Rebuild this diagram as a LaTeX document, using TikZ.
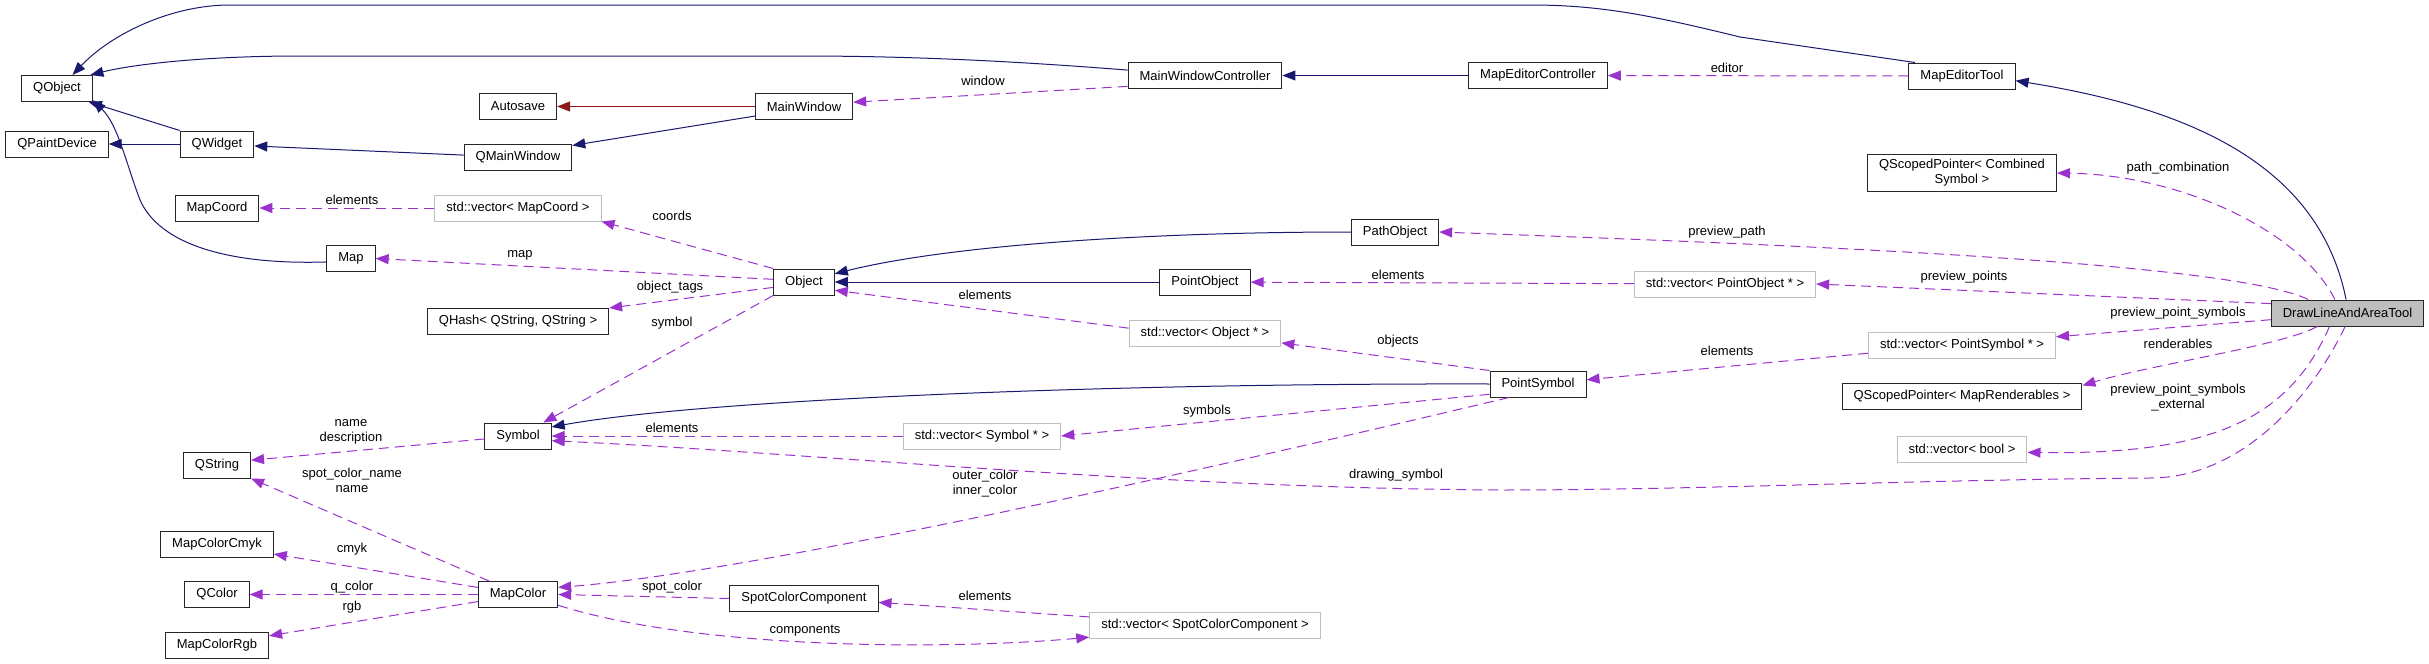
\documentclass[tikz,border=0pt]{standalone}
\usepackage{fontspec}
\setmainfont{Liberation Sans}
\usepackage{tikz}
\usetikzlibrary{arrows.meta}
\definecolor{inhcol}{HTML}{191970}
\definecolor{usecol}{HTML}{9A32CD}
\definecolor{privcol}{HTML}{8B1A1A}
\definecolor{tplcol}{HTML}{BFBFBF}

\begin{document}
\begin{tikzpicture}[x=1pt, y=-1pt, >={Triangle[length=13pt,width=10pt]},
  every node/.style={font=\fontsize{13}{15}\selectfont},
  cls/.style={draw=black!85, line width=1pt, fill=white, inner xsep=11.5pt, inner ysep=5pt, minimum height=26pt},
  tpl/.style={cls, draw=tplcol},
  self/.style={cls, fill=tplcol},
  inh/.style={->, draw=inhcol, line width=1pt},
  priv/.style={->, draw=privcol, line width=1pt},
  use/.style={->, draw=usecol, line width=1pt, dash pattern=on 10pt off 6pt},
  lbl/.style={inner sep=0pt, align=center}]
  \useasboundingbox (0,0) rectangle (2429,664);
  % classes
  \node[cls] (qobject) at (57,88.5) {QObject};
  \node[cls] (qpaintdevice) at (57,144) {QPaintDevice};
  \node[cls] (qwidget) at (217,144) {QWidget};
  \node[cls] (autosave) at (518,106.5) {Autosave};
  \node[cls] (qmainwindow) at (518,157) {QMainWindow};
  \node[cls] (mainwindow) at (804,106.5) {MainWindow};
  \node[cls] (mwctrl) at (1205,75.5) {MainWindowController};
  \node[cls] (mectrl) at (1538,75.5) {MapEditorController};
  \node[cls] (metool) at (1962,76) {MapEditorTool};
  \node[cls, align=center] (combsym) at (1962,173) {QScopedPointer< Combined\\Symbol >};
  \node[cls] (mapcoord) at (217,208) {MapCoord};
  \node[tpl] (veccoord) at (518,208) {std::vector< MapCoord >};
  \node[cls] (map) at (351,258.5) {Map};
  \node[cls] (qhash) at (518,321.5) {QHash< QString, QString >};
  \node[cls] (object) at (804,282) {Object};
  \node[cls] (pathobj) at (1395,232) {PathObject};
  \node[cls] (pointobj) at (1205,282) {PointObject};
  \node[tpl] (vecpointobj) at (1725,284) {std::vector< PointObject * >};
  \node[self] (dlaat) at (2347.5,313) {DrawLineAndAreaTool};
  \node[tpl] (vecobj) at (1205,333.5) {std::vector< Object * >};
  \node[tpl] (vecpointsym) at (1962,345) {std::vector< PointSymbol * >};
  \node[cls] (pointsym) at (1538,384) {PointSymbol};
  \node[cls] (maprend) at (1962,396) {QScopedPointer< MapRenderables >};
  \node[cls] (symbol) at (518,436) {Symbol};
  \node[tpl] (vecsym) at (982,436) {std::vector< Symbol * >};
  \node[tpl] (vecbool) at (1962,449) {std::vector< bool >};
  \node[cls] (qstring) at (217,465) {QString};
  \node[cls] (cmyk) at (217,544) {MapColorCmyk};
  \node[cls] (qcolor) at (217,594.5) {QColor};
  \node[cls] (rgb) at (217,645) {MapColorRgb};
  \node[cls] (mapcolor) at (518,594.5) {MapColor};
  \node[cls] (spotcomp) at (804,598.5) {SpotColorComponent};
  \node[tpl] (vecspot) at (1205,625) {std::vector< SpotColorComponent >};
  % inheritance
  \draw[inh] (qwidget.north west) -- (qobject.-23);
  \draw[inh] (qwidget) -- (qpaintdevice);
  \draw[inh] (qmainwindow.178) -- (qwidget.-3);
  \draw[inh] (mainwindow.-169) -- (qmainwindow.12);
  \draw[priv] (mainwindow) -- (autosave);
  \draw[inh] (mectrl) -- (mwctrl);
  \draw[inh] (mwctrl.176) .. controls (1000,60) and (900,56) .. (800,56) -- (300,56) .. controls (200,56) and (130,65) .. (qobject.22);
  \draw[inh] (metool.164) -- (1740,37) .. controls (1650,15) and (1600,5) .. (1530,5) -- (230,5) .. controls (170,5) and (110,35) .. (qobject.41);
  \draw[inh] (map.188) .. controls (230,265) and (160,245) .. (140,200) .. controls (125,160) and (118,125) .. (qobject.-18);
  \draw[inh] (pathobj.west) .. controls (1150,232) and (950,245) .. (object.15);
  \draw[inh] (pointobj) -- (object);
  \draw[inh] (pointsym.west) .. controls (1100,383) and (700,400) .. (symbol.15);
  \draw[inh] (dlaat.96) .. controls (2320,170) and (2200,110) .. (metool.-5);
  % members
  \draw[use] (veccoord) -- (mapcoord) node[lbl] at (352,200) {elements};
  \draw[use] (object.north west) -- (veccoord.south east) node[lbl] at (672,216) {coords};
  \draw[use] (object.175) -- (map.east) node[lbl] at (520,255) {map};
  \draw[use] (object.-170) -- (qhash.north east) node[lbl] at (670,287) {object\_tags};
  \draw[use] (object.south west) -- (symbol.28) node[lbl] at (672,323) {symbol};
  \draw[use] (mwctrl.188) -- (mainwindow.5) node[lbl] at (983,81) {window};
  \draw[use] (metool) -- (mectrl) node[lbl] at (1727,68) {editor};
  \draw[use] (vecobj.176) -- (object.-15) node[lbl] at (985,295) {elements};
  \draw[use] (pointsym.north west) -- (vecobj.-7) node[lbl] at (1398,341) {objects};
  \draw[use] (vecpointobj) -- (pointobj) node[lbl] at (1398,275) {elements};
  \draw[use] (dlaat.161) .. controls (2230,262) and (1800,245) .. (pathobj.east) node[lbl] at (1727,232) {preview\_path};
  \draw[use] (dlaat.173) -- (vecpointobj.east) node[lbl] at (1964,277) {preview\_points};
  \draw[use] (dlaat.133) .. controls (2300,230) and (2180,175) .. (combsym.east) node[lbl] at (2178,168) {path\_combination};
  \draw[use] (dlaat.-175) -- (vecpointsym.5) node[lbl] at (2178,313) {preview\_point\_symbols};
  \draw[use] (vecpointsym.-175) -- (pointsym.5) node[lbl] at (1727,351) {elements};
  \draw[use] (dlaat.-156) .. controls (2285,345) and (2150,365) .. (maprend.5) node[lbl] at (2178,344) {renderables};
  \draw[use] (dlaat.-143) .. controls (2290,415) and (2220,455) .. (vecbool.-3) node[lbl] at (2178,398) {preview\_point\_symbols\\\_external};
  \draw[use] (dlaat.-100) .. controls (2310,400) and (2240,478) .. (2150,478) .. controls (1900,480) and (1700,490) .. (1500,490) .. controls (1150,488) and (800,452) .. (symbol.-8) node[lbl] at (1396,475) {drawing\_symbol};
  \draw[use] (pointsym.-168) -- (vecsym.east) node[lbl] at (1207,411) {symbols};
  \draw[use] (vecsym) -- (symbol) node[lbl] at (672,428) {elements};
  \draw[use] (pointsym.-155) .. controls (1330,440) and (780,570) .. (mapcolor.10) node[lbl] at (985,484) {outer\_color\\inner\_color};
  \draw[use] (spotcomp.west) -- (mapcolor.east) node[lbl] at (672,587) {spot\_color};
  \draw[use] (vecspot.176) -- (spotcomp.-3.5) node[lbl] at (985,596) {elements};
  \draw[use] (mapcolor.-15) .. controls (700,650) and (950,650) .. (vecspot.-174) node[lbl] at (805,631) {components};
  \draw[use] (symbol.-175) -- (qstring.8) node[lbl] at (351,432) {name\\description};
  \draw[use] (mapcolor.155) -- (qstring.south east) node[lbl] at (352,480) {spot\_color\_name\\name};
  \draw[use] (mapcolor.170) -- (cmyk.-10) node[lbl] at (352,549) {cmyk};
  \draw[use] (mapcolor) -- (qcolor) node[lbl] at (352,587) {q\_color};
  \draw[use] (mapcolor.-170) -- (rgb.10) node[lbl] at (352,607) {rgb};
\end{tikzpicture}
\end{document}
